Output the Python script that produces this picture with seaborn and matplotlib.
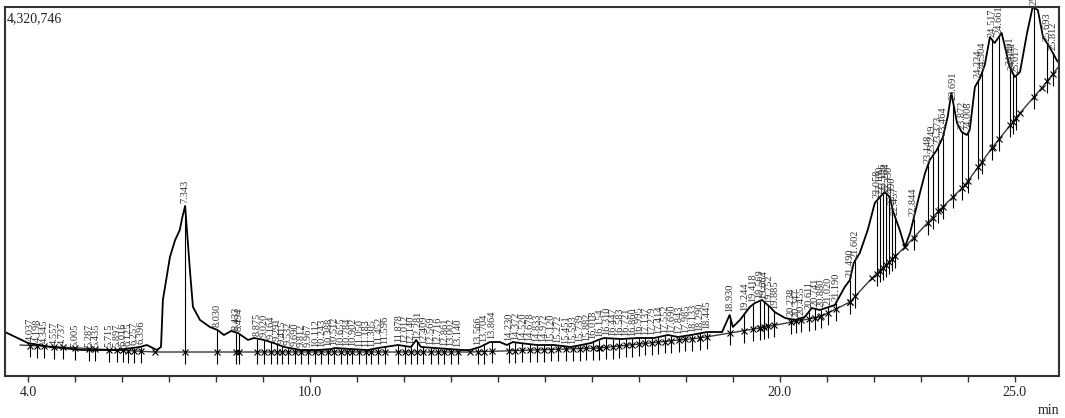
#!/usr/bin/env python3
# chromatogram with integration baseline, drop lines and peak retention times

import numpy as np
import pandas as pd
import seaborn as sns
import matplotlib.pyplot as plt

# detector trace (min, counts)
trace_time = [3.51, 4.00, 4.47, 5.17, 5.89, 6.38, 6.53, 6.74, 6.83, 6.87, 7.02, 7.13, 7.23, 7.28,
              7.343, 7.45, 7.51, 7.66, 7.87, 8.03, 8.17, 8.32, 8.47, 8.68, 8.81, 9.02, 9.23, 9.45,
              9.81, 10.17, 10.45, 10.53, 10.87, 11.23, 11.45, 11.60, 11.87, 12.15, 12.26, 12.36,
              12.66, 13.26, 13.40, 13.62, 13.83, 14.04, 14.19, 14.32, 14.47, 14.83, 15.19, 15.55,
              15.77, 15.98, 16.13, 16.26, 16.62, 16.98, 17.32, 17.62, 17.83, 18.11, 18.45, 18.77,
              18.93, 19.00, 19.15, 19.36, 19.47, 19.62, 19.79, 19.89, 20.11, 20.32, 20.53, 20.68,
              20.85, 21.17, 21.38, 21.49, 21.57, 21.70, 21.87, 22.02, 22.13, 22.23, 22.34, 22.40,
              22.55, 22.66, 22.77, 22.98, 23.09, 23.19, 23.34, 23.47, 23.57, 23.65, 23.77, 23.87,
              23.98, 24.04, 24.15, 24.26, 24.36, 24.47, 24.57, 24.72, 24.89, 25.00, 25.11, 25.26,
              25.38, 25.49, 25.60, 25.74, 25.89, 25.94]
trace_signal = [515000, 386000, 340000, 304000, 304000, 340000, 363000, 304000, 340000, 890000,
                1393000, 1592000, 1710000, 1850000, 1991000, 1206000, 808000, 656000, 574000,
                539000, 480000, 527000, 503000, 422000, 445000, 422000, 386000, 340000, 304000,
                304000, 316000, 328000, 316000, 304000, 328000, 340000, 363000, 340000, 422000,
                340000, 328000, 304000, 304000, 340000, 398000, 398000, 363000, 398000, 386000,
                363000, 363000, 340000, 363000, 386000, 422000, 445000, 433000, 445000, 445000,
                480000, 457000, 480000, 515000, 515000, 714000, 574000, 656000, 808000, 855000,
                890000, 808000, 749000, 679000, 656000, 691000, 796000, 773000, 831000, 1042000,
                1124000, 1323000, 1440000, 1710000, 2026000, 2096000, 2154000, 2096000, 1944000,
                1710000, 1510000, 1674000, 2143000, 2377000, 2529000, 2646000, 2798000, 3033000,
                3314000, 2962000, 2857000, 2822000, 2880000, 3384000, 3489000, 3642000, 3969000,
                3899000, 4016000, 3618000, 3501000, 3560000, 4016000, 4320746, 4285000, 3969000,
                3852000, 3700000, 3665000]

# integration baseline knots
base_time = [3.83, 6.70, 13.40, 16.17, 18.30, 19.57, 20.85, 21.49, 21.96, 22.66, 23.40, 23.94,
             24.53, 25.11, 25.57, 25.96]
base_signal = [363000, 281000, 281000, 328000, 445000, 562000, 691000, 866000, 1147000, 1510000,
               1944000, 2236000, 2681000, 3079000, 3372000, 3642000]

# peak retention times (labels)
peak_rt = [4.037, 4.198, 4.345, 4.557, 4.737, 5.005, 5.287, 5.435, 5.715, 5.897, 6.016, 6.125,
           6.257, 6.396, 7.343, 8.030, 8.433, 8.494, 8.875, 9.020, 9.164, 9.291, 9.415, 9.532,
           9.690, 9.812, 9.967, 10.112, 10.243, 10.388, 10.512, 10.655, 10.784, 10.902, 11.050,
           11.183, 11.305, 11.452, 11.596, 11.878, 12.012, 12.140, 12.281, 12.409, 12.569,
           12.716, 12.861, 13.002, 13.140, 13.566, 13.704, 13.864, 14.230, 14.372, 14.520,
           14.678, 14.833, 14.972, 15.120, 15.272, 15.451, 15.593, 15.739, 15.882, 16.018,
           16.154, 16.310, 16.447, 16.583, 16.721, 16.860, 16.995, 17.137, 17.279, 17.414,
           17.552, 17.690, 17.843, 17.985, 18.133, 18.290, 18.445, 18.930, 19.244, 19.418,
           19.569, 19.664, 19.752, 19.885, 20.238, 20.347, 20.455, 20.611, 20.741, 20.880,
           21.020, 21.190, 21.490, 21.602, 22.058, 22.130, 22.196, 22.264, 22.330, 22.390,
           22.457, 22.844, 23.148, 23.249, 23.373, 23.464, 23.691, 23.872, 24.008, 24.224,
           24.304, 24.517, 24.661, 24.901, 24.951, 25.017, 25.401, 25.693, 25.812]

sns.set_theme(style='ticks')
plt.rcParams['font.family'] = ['Liberation Serif', 'DejaVu Serif']

fig = plt.figure(figsize=(10.65, 4.18), dpi=100)
ax = fig.add_axes([5 / 1065, 1 - 376 / 418, 1054 / 1065, 369 / 418])

trace = pd.DataFrame({'time': trace_time, 'signal': trace_signal})
base = pd.DataFrame({'time': base_time, 'signal': base_signal})
sns.lineplot(data=base, x='time', y='signal', color='#3a3a3a', lw=1.0, estimator=None, ax=ax)
sns.lineplot(data=trace, x='time', y='signal', color='black', lw=1.3, estimator=None, ax=ax)

top = np.interp(peak_rt, trace_time, trace_signal)
bot = np.interp(peak_rt, base_time, base_signal)
ax.vlines(peak_rt, bot - 140000, top, color='black', lw=0.8)
ax.plot(peak_rt, bot, ls='none', marker='x', ms=4, mew=0.8, color='black')
ax.plot(base_time[1:-1], base_signal[1:-1], ls='none', marker='x', ms=4, mew=0.8, color='black')

for t, h in zip(peak_rt, top):
    ax.annotate(f'{t:.3f}', (t, h), xytext=(0, 2), textcoords='offset points', rotation=90,
                ha='center', va='bottom', fontsize=7.5, color='#333333', annotation_clip=False)

ax.set_xlim(3.51, 25.94)
ax.set_ylim(0, 4320746)
ax.set_xticks([4, 10, 20, 25])
ax.set_xticklabels(['4.0', '10.0', '20.0', '25.0'])
ax.set_xticks(np.arange(4, 26), minor=True)
ax.set_yticks([])
ax.tick_params(axis='x', which='both', direction='out', length=4, width=1.0, color='#333333',
               labelsize=10, labelcolor='#222222', pad=3)
ax.set_xlabel('')
ax.set_ylabel('')
for s in ax.spines.values():
    s.set_visible(True)
    s.set_color('#333333')
    s.set_linewidth(1.5)

ax.text(0.002, 0.985, '4,320,746', transform=ax.transAxes, ha='left', va='top', fontsize=10,
        color='#222222')
fig.text(1048 / 1065, 1 - 410 / 418, 'min', ha='center', va='center', fontsize=10, color='#222222')

fig.savefig('out.png', dpi=100)
plt.close(fig)
